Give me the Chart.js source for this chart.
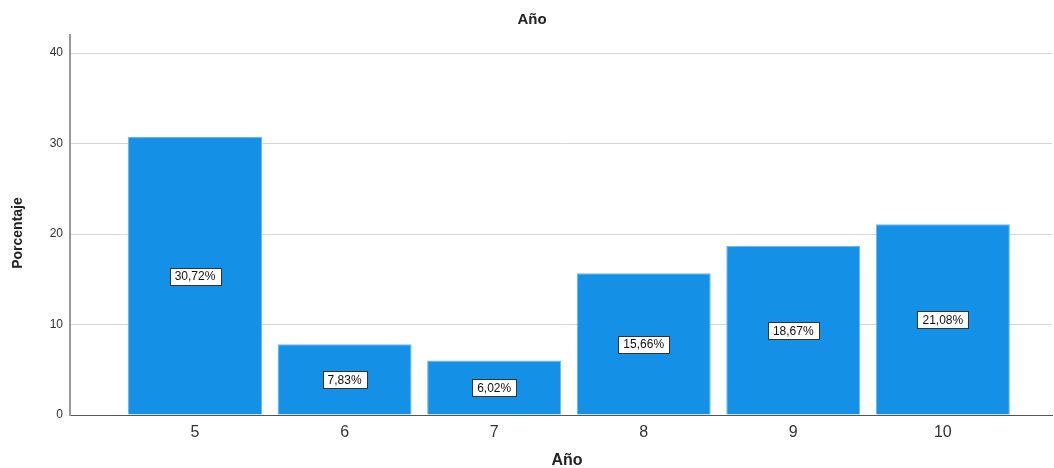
<!DOCTYPE html>
<html>
<head>
<meta charset="utf-8">
<script src="https://cdn.jsdelivr.net/npm/chart.js@4/dist/chart.umd.min.js"></script>
<style>
  html, body { margin: 0; padding: 0; background: #fff; }
  #wrap { width: 1054px; height: 468px; position: relative; }
</style>
</head>
<body>
<div id="wrap"><canvas id="chartAnio"></canvas></div>
<script>
// Datos del gráfico
const categorias = [5, 6, 7, 8, 9, 10];
const porcentajes = [30.72, 7.83, 6.02, 15.66, 18.67, 21.08];
const ticksY = [0, 10, 20, 30, 40];

const titulo = 'Año';
const tituloX = 'Año';
const tituloY = 'Porcentaje';

const FUENTE = '"Liberation Sans", Arial, sans-serif';

// Etiquetas de valor y títulos dibujados a mano
const etiquetasPlugin = {
  id: 'etiquetas',
  afterDatasetsDraw(chart) {
    const ctx = chart.ctx;
    const meta = chart.getDatasetMeta(0);
    const yScale = chart.scales.y;
    ctx.save();
    ctx.font = '12px ' + FUENTE;
    ctx.textAlign = 'center';
    ctx.textBaseline = 'middle';
    meta.data.forEach((bar, i) => {
      const v = porcentajes[i];
      const txt = v.toFixed(2).replace('.', ',') + '%';
      const cx = bar.x;
      const cy = yScale.getPixelForValue(v / 2);
      const w = ctx.measureText(txt).width + 10;
      const h = 17;
      ctx.fillStyle = '#ffffff';
      ctx.fillRect(Math.round(cx - w / 2) + 0.5, Math.round(cy - h / 2) + 0.5, Math.round(w), h);
      ctx.strokeStyle = '#333333';
      ctx.lineWidth = 1;
      ctx.strokeRect(Math.round(cx - w / 2) + 0.5, Math.round(cy - h / 2) + 0.5, Math.round(w), h);
      ctx.fillStyle = '#111111';
      ctx.fillText(txt, cx, cy + 1);
    });
    ctx.restore();
  },
  afterDraw(chart) {
    const ctx = chart.ctx;
    const area = chart.chartArea;
    ctx.save();
    ctx.fillStyle = '#222222';
    ctx.textAlign = 'center';
    ctx.textBaseline = 'middle';
    ctx.font = 'bold 15px ' + FUENTE;
    ctx.fillText(titulo, 532, 20);
    ctx.font = 'bold 16px ' + FUENTE;
    ctx.fillText(tituloX, (area.left + area.right) / 2 + 6, 461);
    ctx.translate(18, 233);
    ctx.rotate(-Math.PI / 2);
    ctx.font = 'bold 14px ' + FUENTE;
    ctx.fillText(tituloY, 0, 0);
    ctx.restore();
  }
};

const ctx = document.getElementById('chartAnio');
new Chart(ctx, {
  type: 'bar',
  data: {
    datasets: [{
      data: categorias.map((c, i) => ({ x: c, y: porcentajes[i] })),
      backgroundColor: '#1490E6',
      borderColor: '#6BB8F0',
      borderWidth: 1,
      borderSkipped: 'bottom',
      barPercentage: 0.896,
      categoryPercentage: 1
    }]
  },
  options: {
    responsive: true,
    maintainAspectRatio: false,
    animation: false,
    layout: { padding: { top: 35, right: 2, left: 0, bottom: 0 } },
    plugins: {
      legend: { display: false },
      tooltip: { enabled: false },
      title: { display: false }
    },
    scales: {
      x: {
        type: 'linear',
        offset: false,
        min: 4.164,
        max: 10.73,
        afterBuildTicks: scale => { scale.ticks = categorias.map(v => ({ value: v })); },
        afterFit: scale => { scale.height = 53; },
        grid: { display: false, drawTicks: false, offset: false },
        border: { color: '#555555', width: 1 },
        ticks: {
          color: '#333333',
          font: { family: FUENTE, size: 16 },
          padding: 8,
          autoSkip: false,
          maxRotation: 0,
          callback: v => String(v)
        }
      },
      y: {
        min: 0,
        max: 42,
        afterBuildTicks: scale => { scale.ticks = ticksY.map(v => ({ value: v })); },
        afterFit: scale => { scale.width = 70; },
        grid: { color: '#D6D6D6', lineWidth: 1, drawTicks: false },
        border: { color: '#9A9A9A', width: 2 },
        ticks: {
          color: '#333333',
          font: { family: FUENTE, size: 12 },
          padding: 7
        }
      }
    }
  },
  plugins: [etiquetasPlugin]
});
</script>
</body>
</html>
